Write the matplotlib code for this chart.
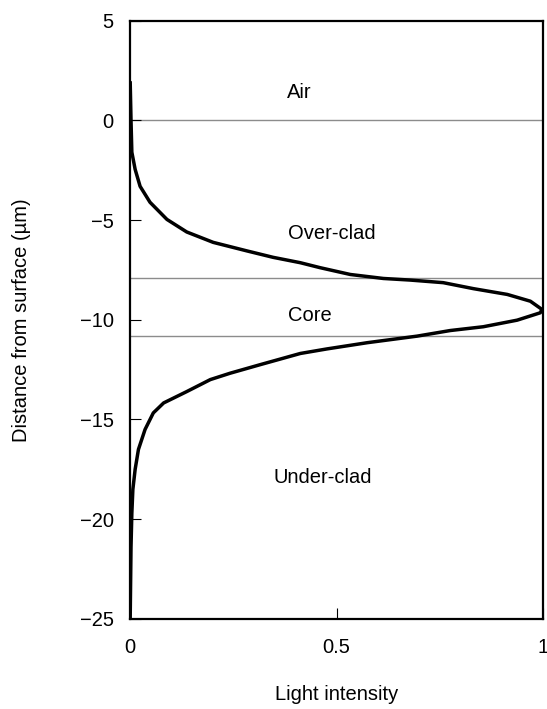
import matplotlib
matplotlib.use("Agg")
import matplotlib.pyplot as plt

plt.rcParams["font.family"] = ["Liberation Sans", "DejaVu Sans"]

# light intensity profile (intensity, depth in um)
intensity = [0.0, 0.002, 0.004, 0.012, 0.024, 0.048, 0.089, 0.137, 0.201, 0.283,
             0.346, 0.412, 0.46, 0.533, 0.613, 0.678, 0.758, 0.831, 0.913, 0.969,
             0.997, 0.993, 0.937, 0.855, 0.775, 0.695, 0.574, 0.477, 0.412, 0.315,
             0.242, 0.194, 0.137, 0.081, 0.056, 0.036, 0.020, 0.012, 0.0065, 0.004,
             0.002, 0.0]
depth = [1.96, 0.0, -1.6, -2.46, -3.31, -4.11, -4.97, -5.6, -6.12, -6.55,
         -6.87, -7.14, -7.39, -7.73, -7.93, -8.01, -8.14, -8.44, -8.73, -9.07,
         -9.48, -9.65, -10.02, -10.35, -10.54, -10.82, -11.15, -11.46, -11.69, -12.25,
         -12.68, -13.0, -13.6, -14.17, -14.67, -15.5, -16.5, -17.5, -18.5, -19.7,
         -21.4, -25.0]

boundaries = [0.0, -7.9, -10.8]
layer_names = ["Air", "Over-clad", "Core", "Under-clad"]
layer_x = [0.41, 0.489, 0.436, 0.467]
layer_y = [1.4, -5.67, -9.77, -17.9]

fig = plt.figure(figsize=(5.47, 7.09), dpi=100)
ax = fig.add_axes([0.238, 0.127, 0.755, 0.844])

for b in boundaries:
    ax.axhline(b, color="#8c8c8c", linewidth=1.0, zorder=1)

ax.plot(intensity, depth, color="black", linewidth=2.5, zorder=3,
        solid_joinstyle="round", solid_capstyle="butt")

for name, x, y in zip(layer_names, layer_x, layer_y):
    ax.text(x, y, name, fontsize=14.5, ha="center", va="center")

ax.set_xlim(0, 1)
ax.set_ylim(-25, 5)
ax.set_xticks([0, 0.5, 1])
ax.set_xticklabels(["0", "0.5", "1"])
ax.set_yticks([5, 0, -5, -10, -15, -20, -25])
ax.set_yticklabels(["5", "0", "\u22125", "\u221210", "\u221215", "\u221220", "\u221225"])
ax.tick_params(direction="in", length=8, width=0.8, labelsize=14.5)
ax.tick_params(axis="x", pad=14)
ax.tick_params(axis="y", pad=12)
for s in ax.spines.values():
    s.set_linewidth(1.6)

ax.set_xlabel("Light intensity", fontsize=14.5, va="top")
ax.xaxis.set_label_coords(0.5, -0.11)
ax.set_ylabel("Distance from surface (\u00b5m)", fontsize=14.5)
ax.yaxis.set_label_coords(-0.24, 0.5)

fig.savefig("out.png", dpi=100)
